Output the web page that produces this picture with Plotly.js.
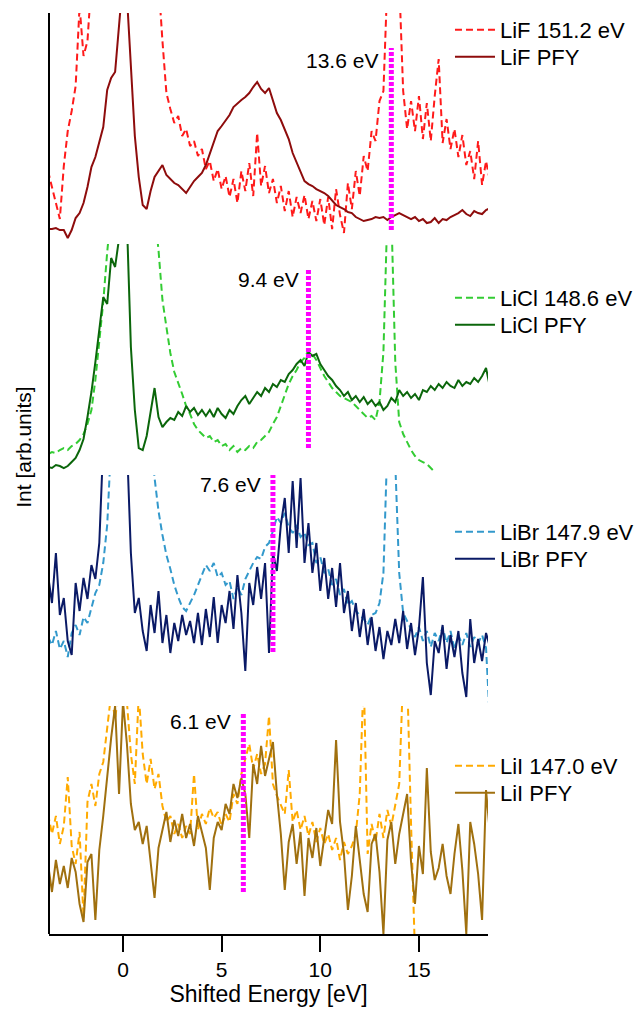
<!DOCTYPE html>
<html><head><meta charset="utf-8">
<script src="https://cdn.plot.ly/plotly-3.0.1.min.js"></script>
<style>html,body{margin:0;padding:0;background:#fff}#chart{width:638px;height:1009px}</style>
</head><body><div id="chart"></div>
<script>
// Shifted energy grid (eV)
const energy = [
-3.8,-3.6,-3.4,-3.2,-3.0,-2.8,-2.6,-2.4,-2.2,-2.0,
-1.8,-1.6,-1.4,-1.2,-1.0,-0.8,-0.6,-0.4,-0.2,0.0,
0.2,0.4,0.6,0.8,1.0,1.2,1.4,1.6,1.8,2.0,
2.2,2.4,2.6,2.8,3.0,3.2,3.4,3.6,3.8,4.0,
4.2,4.4,4.6,4.8,5.0,5.2,5.4,5.6,5.8,6.0,
6.2,6.4,6.6,6.8,7.0,7.2,7.4,7.6,7.8,8.0,
8.2,8.4,8.6,8.8,9.0,9.2,9.4,9.6,9.8,10.0,
10.2,10.4,10.6,10.8,11.0,11.2,11.4,11.6,11.8,12.0,
12.2,12.4,12.6,12.8,13.0,13.2,13.4,13.6,13.8,14.0,
14.2,14.4,14.6,14.8,15.0,15.2,15.4,15.6,15.8,16.0,
16.2,16.4,16.6,16.8,17.0,17.2,17.4,17.6,17.8,18.0,
18.2,18.4,18.6];

// LiF (panel intensities, arb. units)
const lifExc = [
70,55,38,22,75,110,130,155,235,185,
200,260,260,260,260,260,260,260,260,260,
260,260,260,260,260,260,260,260,260,200,
148,132,118,125,105,112,95,100,85,92,
72,80,60,72,52,65,44,62,38,70,
50,78,45,108,55,75,48,62,38,55,
30,50,24,44,28,46,22,40,20,42,
16,44,12,52,26,8,58,32,70,45,
85,70,110,100,140,150,260,260,260,260,
150,112,140,110,145,102,138,100,145,182,
98,122,92,112,84,106,76,90,62,100,
56,80,60];
const lifPfy = [
12,12,13,11,11,3,11,23,28,38,
54,74,84,98,114,151,163,169,215,262,
245,172,105,64,36,32,50,64,70,76,
66,62,58,56,52,48,54,60,64,68,
76,88,100,110,115,120,126,134,138,141,
144,148,154,159,152,148,153,140,128,121,
112,102,88,78,70,60,57,55,52,50,
48,45,40,36,34,32,29,28,24,22,
20,21,22,24,23,24,21,24,26,28,
26,24,22,24,20,22,18,19,23,18,
22,21,24,26,28,31,27,25,30,28,
27,31,33];

// LiCl
const liclExc = [
18,20,19,22,24,22,26,28,32,38,
48,62,92,132,170,220,260,260,260,260,
260,260,260,260,260,260,260,260,222,172,
145,119,100,90,78,66,58,48,42,38,
34,36,30,32,26,28,22,26,20,24,
22,26,24,30,32,36,40,48,55,66,
78,88,96,102,110,114,122,118,112,104,
96,90,84,80,76,74,72,70,66,62,
58,54,56,52,70,120,260,260,110,50,
38,30,22,16,12,10,8,4,0,null,
null,null,null,null,null,null,null,null,null,null,
null,null,null];
const liclPfy = [
5,4,7,6,4,6,10,14,22,33,
55,80,110,140,175,168,214,205,232,262,
250,125,62,24,22,36,60,84,55,45,
50,54,52,60,56,66,60,64,57,62,
56,62,55,64,58,54,62,58,66,72,
76,68,74,80,76,84,80,88,85,92,
90,98,102,108,112,106,120,116,118,108,
102,96,92,86,82,76,80,72,76,70,
75,68,72,66,70,62,66,74,70,82,
76,80,74,78,72,82,80,86,82,88,
84,90,86,84,92,86,90,88,94,90,
96,104,85];

// LiBr
const libExc = [
66,58,72,54,62,46,70,78,68,86,
80,96,110,118,140,178,260,260,260,260,
260,260,260,260,260,260,260,225,192,168,
148,134,118,106,96,92,100,108,118,128,
138,132,140,126,130,118,122,104,116,108,
124,132,140,146,144,156,160,172,186,180,
190,176,170,178,166,170,158,160,140,146,
130,134,118,124,108,114,98,102,92,88,
84,78,88,90,100,130,260,260,240,130,
90,82,74,66,76,62,72,56,70,62,
76,60,72,54,68,58,70,56,66,60,
68,55,-20];
const libPfy = [
128,100,150,88,105,62,48,120,92,125,
104,138,124,160,260,260,260,260,260,260,
260,150,90,105,72,52,98,70,112,60,
88,50,80,62,88,68,82,60,90,58,
94,66,106,60,98,80,112,74,128,90,
32,120,98,136,104,140,50,150,132,178,
205,150,222,155,225,140,180,130,160,112,
145,104,135,96,140,90,112,72,100,66,
94,58,86,52,76,44,72,58,84,60,
92,54,80,48,75,126,40,8,62,50,
78,34,68,46,72,30,6,84,40,64,
42,70,56];

// LiI
const liiExc = [
120,100,118,90,108,157,88,70,102,16,
132,150,128,160,172,205,240,215,245,240,
232,180,150,240,180,150,175,145,160,128,
112,118,100,110,96,108,100,160,104,120,
110,126,116,122,108,120,112,140,130,160,
176,190,165,180,160,170,218,150,138,128,
120,164,112,124,104,118,98,112,92,106,
90,100,84,96,74,92,80,88,100,140,
260,80,110,92,120,96,124,108,130,150,
260,260,110,-20,null,null,null,null,null,null,
null,null,null,null,null,null,null,null,null,null,
null,null,null];
const liiPfy = [
70,42,74,50,68,46,76,62,30,12,
72,80,14,84,118,160,196,228,140,232,
190,130,104,112,90,108,70,36,86,104,
122,92,114,98,120,96,110,88,118,102,
86,44,96,112,104,130,120,150,136,156,
140,96,170,150,188,158,176,192,140,100,
44,92,110,70,102,38,96,76,106,68,
96,124,110,194,112,80,24,58,108,74,
40,22,90,100,62,0,94,112,70,100,
120,140,72,30,88,60,166,82,54,66,
90,58,40,80,110,64,0,112,90,60,
14,144,100];

const excLabels = ['LiF 151.2 eV','LiCl 148.6 eV','LiBr 147.9 eV','LiI 147.0 eV'];
const pfyLabels = ['LiF PFY','LiCl PFY','LiBr PFY','LiI PFY'];
const peakEnergies = [13.6, 9.4, 7.6, 6.1];
const peakLabels = ['13.6 eV','9.4 eV','7.6 eV','6.1 eV'];
const peakLow = [11, 24, 51, 42];
const peakHigh = [193, 204, 230, 222];

const FONT = 'Liberation Sans, Arial, Helvetica, sans-serif';
const panels = [
  {exc: lifExc,  pfy: lifPfy,  ax: 'y4', excColor: '#ff1a1a', pfyColor: '#8e0c0c', labelY: 181, labelShift: -11, legY: [30, 57]},
  {exc: liclExc, pfy: liclPfy, ax: 'y3', excColor: '#33cc33', pfyColor: '#0b660b', labelY: 192, labelShift: -7,  legY: [298, 325]},
  {exc: libExc,  pfy: libPfy,  ax: 'y2', excColor: '#3399cc', pfyColor: '#0a1a66', labelY: 218, labelShift: -10, legY: [532, 559]},
  {exc: liiExc,  pfy: liiPfy,  ax: 'y',  excColor: '#ffaa00', pfyColor: '#a0700f', labelY: 212, labelShift: -10, legY: [766, 793]}
];

const traces = [];
const annotations = [];
const legends = {};
panels.forEach((p, i) => {
  const l1 = 'legend' + (i === 0 ? '' : (2 * i + 1));
  const l2 = 'legend' + (2 * i + 2);
  traces.push({x: energy, y: p.exc, xaxis: 'x', yaxis: p.ax, type: 'scatter', mode: 'lines',
    name: excLabels[i], legend: l1, line: {color: p.excColor, width: 2, dash: '7px,4px'}});
  traces.push({x: energy, y: p.pfy, xaxis: 'x', yaxis: p.ax, type: 'scatter', mode: 'lines',
    name: pfyLabels[i], legend: l2, line: {color: p.pfyColor, width: 2}});
  legends[l1] = p.legY[0];
  legends[l2] = p.legY[1];
  annotations.push({xref: 'x', yref: p.ax, x: peakEnergies[i], y: p.labelY, text: peakLabels[i],
    xanchor: 'right', yanchor: 'middle', xshift: p.labelShift, showarrow: false,
    font: {family: FONT, size: 21, color: '#000'}});
});
panels.forEach((p, i) => {
  traces.push({x: [peakEnergies[i], peakEnergies[i]], y: [peakLow[i], peakHigh[i]], xaxis: 'x', yaxis: p.ax,
    type: 'scatter', mode: 'lines', showlegend: false, hoverinfo: 'skip',
    line: {color: '#ff00ff', width: 5, dash: '4px,2px'}});
});
annotations.push({xref: 'paper', yref: 'paper', x: -0.057, y: 0.529, text: 'Int [arb.units]', textangle: -90,
  showarrow: false, xanchor: 'center', yanchor: 'middle', font: {family: FONT, size: 21, color: '#000'}});

const PLOT_TOP = 13, PLOT_H = 921;
const hiddenY = (dom) => ({domain: dom, range: [0, 228], visible: false, fixedrange: true});
const legendBase = (ypx) => ({x: 0.9134, xanchor: 'left', y: (PLOT_TOP + PLOT_H - ypx) / PLOT_H, yanchor: 'middle',
  bgcolor: 'rgba(0,0,0,0)', borderwidth: 0, itemwidth: 40, tracegroupgap: 0,
  font: {family: FONT, size: 22, color: '#000'}});

const layout = {
  width: 638, height: 1009,
  margin: {l: 49, r: 150, t: PLOT_TOP, b: 75, pad: 0, autoexpand: false},
  paper_bgcolor: '#fff', plot_bgcolor: 'rgba(0,0,0,0)',
  font: {family: FONT, size: 21, color: '#000'},
  showlegend: true,
  xaxis: {range: [-3.75, 18.5], anchor: 'y', showline: true, linecolor: '#000', linewidth: 2,
    ticks: 'outside', ticklen: 16, tickwidth: 2, tickcolor: '#000', tick0: 0, dtick: 5,
    showgrid: false, zeroline: false, tickfont: {family: FONT, size: 21, color: '#000'},
    title: {text: 'Shifted Energy [eV]', font: {family: FONT, size: 23, color: '#000'}, standoff: 4}},
  yaxis: hiddenY([0, 0.2476]),
  yaxis2: hiddenY([0.2508, 0.4984]),
  yaxis3: hiddenY([0.5016, 0.7492]),
  yaxis4: hiddenY([0.7524, 1]),
  shapes: [{type: 'line', xref: 'paper', yref: 'paper', x0: 0, x1: 0, y0: 0, y1: 1,
    line: {color: '#000', width: 2}}],
  annotations: annotations
};
Object.keys(legends).forEach(k => { layout[k] = legendBase(legends[k]); });

Plotly.newPlot('chart', traces, layout, {staticPlot: true, displayModeBar: false});
</script>
</body></html>
